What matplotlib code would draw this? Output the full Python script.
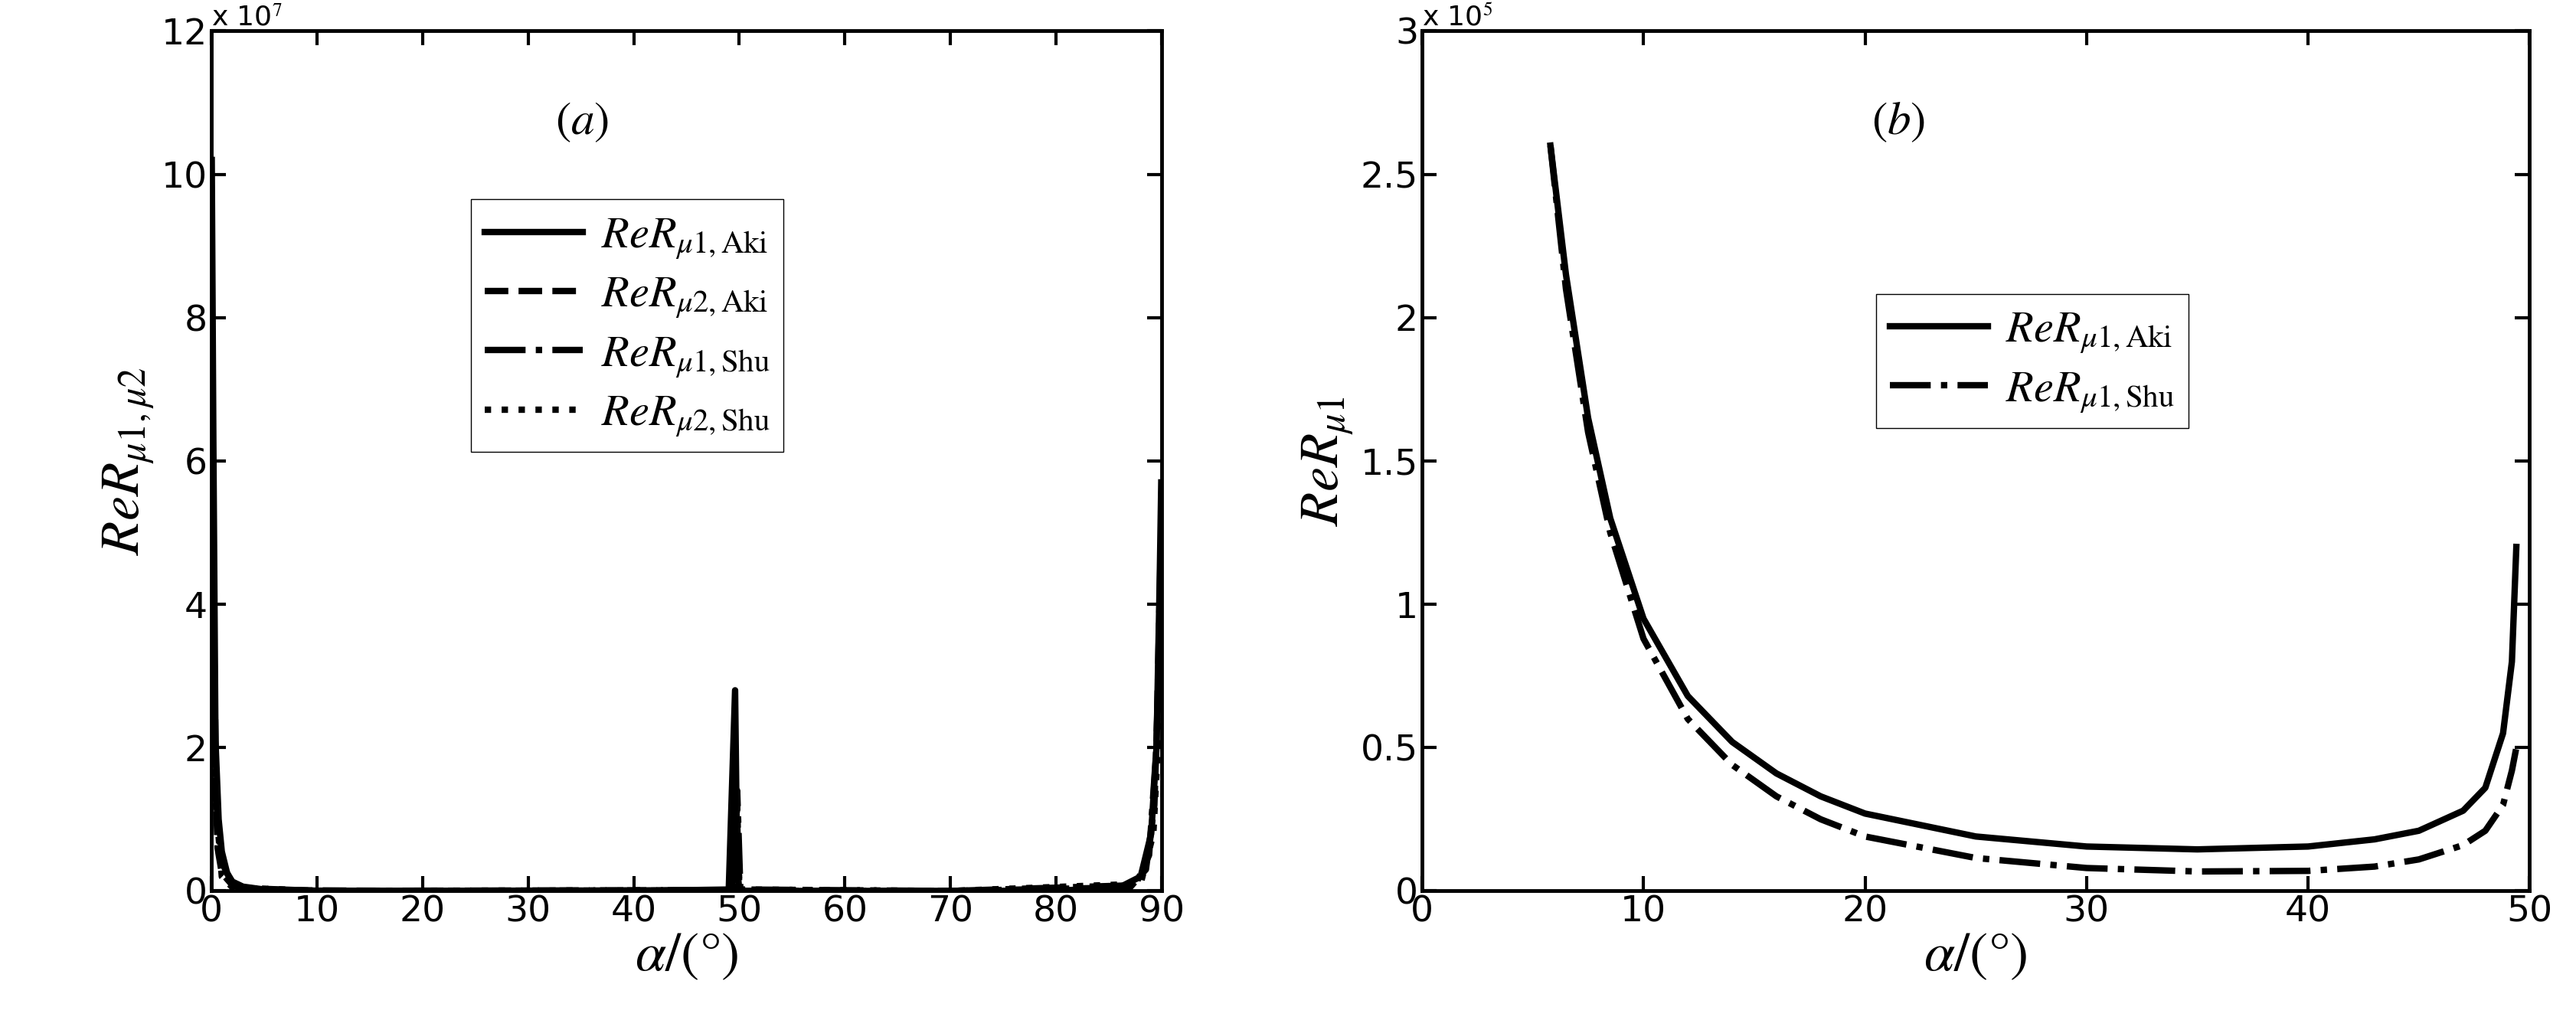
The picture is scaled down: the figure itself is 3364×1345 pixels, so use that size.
import matplotlib.pyplot as plt
import numpy as np

plt.rcParams['mathtext.fontset'] = 'stix'
plt.rcParams['font.family'] = ['DejaVu Sans']

# Panel (a) data (values in units of 1e7)
a_aki1_x = [0.05, 0.2, 0.4, 0.7, 1.0, 1.5, 2.0, 3.0, 5.0, 10, 20, 40, 49.0, 49.6, 49.8, 50.0, 50.3, 60, 80, 86, 88, 89, 89.5, 89.8, 89.95]
a_aki1_y = [10.2, 6.3, 2.1, 1.0, 0.55, 0.25, 0.13, 0.06, 0.02, 0.004, 0.001, 0.0005, 0.02, 2.8, 0.3, 0.02, 0.0, 0.0, 0.002, 0.05, 0.2, 0.8, 2.0, 4.3, 5.7]
a_aki2_x = [0.05, 0.3, 0.6, 1.0, 2.0, 3.0, 5, 20, 49.3, 49.7, 50.0, 50.5, 70, 87, 88.5, 89.3, 89.7, 89.95]
a_aki2_y = [6.3, 2.0, 0.6, 0.25, 0.08, 0.03, 0.01, 0.001, 0.01, 1.4, 0.05, 0.0, 0.0, 0.05, 0.3, 1.2, 3.0, 4.6]
a_shu1_x = [0.05, 0.2, 0.5, 1.0, 2.0, 3, 10, 49.5, 49.8, 50.1, 70, 87.5, 88.8, 89.5, 89.9]
a_shu1_y = [9.0, 4.0, 1.2, 0.4, 0.1, 0.04, 0.002, 0.01, 1.4, 0.02, 0.0, 0.08, 0.5, 2.0, 4.8]
a_shu2_x = [0.05, 0.3, 1.0, 2.0, 10, 49.6, 49.8, 50.0, 70, 88, 89.2, 89.7, 89.95]
a_shu2_y = [5.0, 1.5, 0.2, 0.05, 0.001, 0.01, 1.2, 0.02, 0.0, 0.1, 0.8, 2.2, 4.0]

# Panel (b) data (values in units of 1e5)
b_x = [5.8, 6.5, 7.5, 8.5, 10, 12, 14, 16, 18, 20, 25, 30, 35, 40, 43, 45, 47, 48, 48.8, 49.2, 49.4]
b_aki = [2.6, 2.15, 1.65, 1.3, 0.95, 0.68, 0.52, 0.41, 0.33, 0.27, 0.19, 0.155, 0.145, 0.155, 0.18, 0.21, 0.28, 0.36, 0.55, 0.8, 1.2]
b_shu = [2.6, 2.1, 1.6, 1.25, 0.88, 0.6, 0.44, 0.33, 0.25, 0.19, 0.115, 0.08, 0.068, 0.07, 0.085, 0.11, 0.16, 0.21, 0.3, 0.42, 0.5]

fig = plt.figure(figsize=(33.64, 13.45), dpi=100)
ax1 = fig.add_axes([0.082, 0.135, 0.369, 0.835])
ax2 = fig.add_axes([0.552, 0.135, 0.430, 0.835])

lw = 6
ax1.plot(a_aki1_x, a_aki1_y, 'k-', lw=lw, label=r'$ReR_{\mu1,\mathrm{Aki}}$')
ax1.plot(a_aki2_x, a_aki2_y, 'k--', lw=lw, label=r'$ReR_{\mu2,\mathrm{Aki}}$')
ax1.plot(a_shu1_x, a_shu1_y, 'k-.', lw=lw, label=r'$ReR_{\mu1,\mathrm{Shu}}$')
ax1.plot(a_shu2_x, a_shu2_y, 'k:', lw=lw, label=r'$ReR_{\mu2,\mathrm{Shu}}$')
ax1.set_xlim(0, 90)
ax1.set_ylim(0, 12)
ax1.set_xticks(range(0, 91, 10))
ax1.set_yticks(range(0, 13, 2))
ax1.text(0.0, 1.0, r'x 10$^{7}$', transform=ax1.transAxes, fontsize=26, va='bottom')
ax1.text(0.39, 0.88, r'$(a)$', transform=ax1.transAxes, fontsize=44, ha='center')
ax1.set_ylabel(r'$ReR_{\mu1,\mu2}$', fontsize=52)
ax1.set_xlabel(r'$\alpha/(°)$', fontsize=52, labelpad=0)
ax1.legend(loc='upper left', bbox_to_anchor=(0.25, 0.83), fontsize=42, handlelength=2.2,
           fancybox=False, edgecolor='k', framealpha=1, borderpad=0.3, labelspacing=0.25,
           handletextpad=0.4)

ax2.plot(b_x, b_aki, 'k-', lw=lw, label=r'$ReR_{\mu1,\mathrm{Aki}}$')
ax2.plot(b_x, b_shu, 'k-.', lw=lw, label=r'$ReR_{\mu1,\mathrm{Shu}}$')
ax2.set_xlim(0, 50)
ax2.set_ylim(0, 3)
ax2.set_xticks(range(0, 51, 10))
ax2.set_yticks([0, 0.5, 1, 1.5, 2, 2.5, 3])
ax2.set_yticklabels(['0', '0.5', '1', '1.5', '2', '2.5', '3'])
ax2.text(0.0, 1.0, r'x 10$^{5}$', transform=ax2.transAxes, fontsize=26, va='bottom')
ax2.text(0.43, 0.88, r'$(b)$', transform=ax2.transAxes, fontsize=44, ha='center')
ax2.set_ylabel(r'$ReR_{\mu1}$', fontsize=52)
ax2.set_xlabel(r'$\alpha/(°)$', fontsize=52, labelpad=0)
ax2.legend(loc='upper left', bbox_to_anchor=(0.39, 0.72), fontsize=42, handlelength=2.2,
           fancybox=False, edgecolor='k', framealpha=1, borderpad=0.3, labelspacing=0.25,
           handletextpad=0.4)

for ax in (ax1, ax2):
    ax.tick_params(direction='in', top=True, right=True, labelsize=34, length=14, width=3)
    for s in ax.spines.values():
        s.set_linewidth(3.5)

fig.savefig('out.png', dpi=100)
